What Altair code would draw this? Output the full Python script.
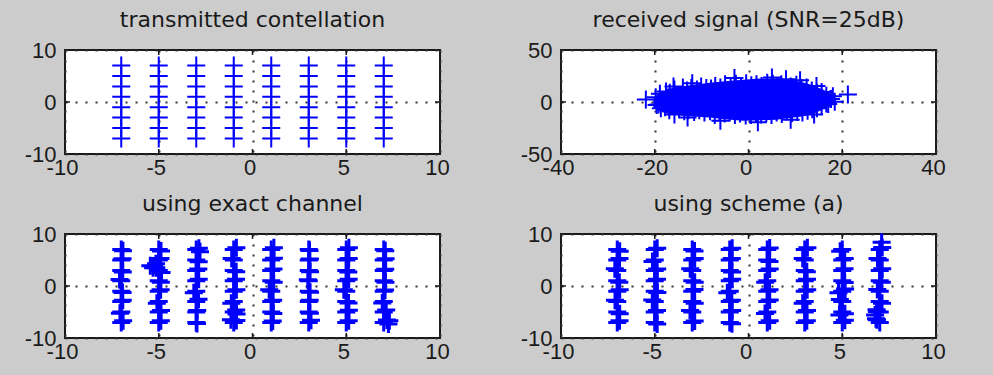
import altair as alt
import pandas as pd

# ---------------- data ----------------
levels = [-7, -5, -3, -1, 1, 3, 5, 7]          # 64-QAM levels (I and Q)

# received signal: solid core envelope (x, upper y, lower y)
blob_x = [-20.3, -19.5, -18.2, -16.5, -15.4, -13.5, -11.8, -10.0, -8.3, -5.0, -1.2, 2.4, 5.9, 9.5,
          11.5, 13.0, 14.5, 15.9, 17.4, 18.6]
blob_top = [3.0, 7.0, 10.0, 13.0, 14.5, 15.5, 16.5, 17.5, 18.5, 20.0, 21.5, 22.5, 22.5, 21.0,
            19.0, 17.0, 14.5, 12.0, 8.0, 3.0]
blob_bot = [-5.0, -8.0, -10.0, -12.0, -12.5, -13.5, -14.0, -14.5, -15.0, -16.5, -18.0, -17.5, -17.0, -15.0,
            -14.0, -12.5, -10.0, -7.0, -4.0, -1.0]

# received signal: individual symbols on the fringe of the cloud
rx_x = [-19.8, -18.9, -17.6, -16.8, -15.8, -14.0, -13.1, -12.2, -11.0, -10.1, -9.0, -8.0, -7.1, -6.0,
        -5.0, -3.8, -2.7, -1.6, -0.5, 0.6, 1.7, 2.8, 4.0, 5.2, 6.0, 7.0, 8.0, 9.0, 10.2, 11.3, 12.4,
        13.5, 14.6, 15.6, 16.6, 17.6,
        -19.6, -18.7, -17.8, -16.9, -15.8, -14.8, -13.7, -12.8, -11.6, -10.5, -9.4, -8.2, -7.2, -6.2,
        -5.1, -4.0, -2.9, -1.8, -0.6, 0.5, 1.6, 2.7, 3.8, 4.9, 6.0, 7.1, 8.2, 9.3, 10.4, 11.5, 12.6,
        13.6, 14.6, 15.6, 16.6,
        -21.9, 17.5, 18.0, 18.4, 17.0, 21.2, -19.2,
        -16.0, -12.0, -3.0, 5.0, 11.0, 14.5, -13.0, -6.0, 2.0, 9.0, 14.0]
rx_y = [4.5, 8.0, 10.0, 9.0, 12.0, 14.0, 11.0, 13.5, 12.0, 15.0, 13.5, 13.0, 15.5, 14.0,
        17.0, 15.5, 17.5, 14.5, 18.0, 16.0, 17.0, 15.5, 18.5, 17.5, 15.5, 17.0, 21.8, 15.0, 16.5, 13.5, 14.0,
        11.0, 9.0, 9.5, 6.0, 3.0,
        -3.0, -6.0, -5.0, -8.0, -12.0, -7.0, -9.0, -8.0, -9.5, -8.0, -10.0, -9.0, -12.5, -9.5,
        -11.0, -10.0, -12.5, -11.0, -13.0, -12.5, -11.0, -12.0, -10.5, -12.5, -10.0, -11.5, -9.0, -10.5, -9.5,
        -10.0, -8.5, -7.0, -6.0, -3.5, -1.5,
        2.4, 3.0, 5.6, 0.3, -2.0, 7.3, -2.5,
        15.0, 18.0, 23.0, 23.5, 21.0, 15.5, -15.0, -18.0, -19.5, -17.0, -12.0]

# equalised symbols, deviation from the ideal point (column by column, Q from -7 to 7)
exact_dx = [0.10, -0.07, 0.08, 0.07, -0.09, 0.08, 0.07, 0.09,
            0.11, 0.12, -0.10, 0.10, 0.11, -0.13, 0.09, 0.12,
            0.04, 0.05, 0.12, -0.13, 0.13, 0.11, 0.13, 0.14,
            0.14, 0.13, -0.13, 0.14, 0.12, 0.13, -0.11, 0.14,
            0.08, 0.11, 0.10, -0.11, 0.13, 0.12, 0.14, 0.14,
            0.12, 0.06, 0.05, 0.07, -0.05, 0.07, 0.06, 0.04,
            0.13, 0.14, 0.12, -0.13, 0.13, 0.11, 0.13, 0.14,
            0.17, 0.13, -0.08, 0.07, 0.09, 0.08, 0.10, 0.08]
exact_dy = [0.30, -0.26, 0.28, -0.24, 0.27, -0.30, 0.25, -0.20,
            0.32, 0.28, -0.30, 0.26, -0.28, 0.50, 0.30, -0.25,
            -0.20, 0.30, 0.45, -0.28, 0.30, 0.26, -0.32, 0.28,
            0.35, 0.40, -0.30, 0.28, 0.32, -0.26, 0.30, 0.34,
            0.25, -0.30, 0.28, 0.30, -0.26, 0.28, 0.32, 0.35,
            0.40, -0.22, 0.24, -0.20, 0.22, -0.25, 0.20, -0.18,
            0.30, 0.35, -0.28, 0.30, 0.32, -0.30, 0.28, 0.36,
            0.45, 0.38, -0.26, 0.24, -0.28, 0.22, 0.25, -0.20]
exact_extra_x = [-5.45, -5.30, -5.15, -4.85, 7.30, 7.25, -2.80, -0.85, -1.15]
exact_extra_y = [3.9, 3.5, 4.3, 2.6, -6.7, -7.3, 6.6, -5.4, -6.5]

scheme_dx = [0.12, 0.13, -0.12, 0.13, 0.11, -0.13, 0.12, 0.13,
             0.13, 0.12, -0.13, 0.14, 0.12, 0.13, -0.12, 0.13,
             0.13, -0.12, 0.13, 0.12, 0.13, -0.11, 0.13, 0.12,
             0.12, 0.13, 0.11, -0.13, 0.13, 0.12, 0.11, 0.13,
             0.13, -0.12, 0.13, 0.12, -0.11, 0.13, 0.12, 0.13,
             0.11, 0.12, -0.11, 0.13, 0.12, 0.11, -0.11, 0.14,
             0.14, 0.14, -0.13, 0.15, 0.13, 0.12, 0.13, -0.11,
             -0.15, -0.17, 0.12, -0.13, 0.11, 0.13, -0.12, 0.13]
scheme_dy = [0.30, -0.32, 0.28, 0.30, -0.26, 0.32, 0.28, -0.30,
             -0.30, 0.28, 0.32, -0.27, 0.30, 0.26, -0.30, 0.28,
             0.28, 0.30, -0.30, 0.32, -0.28, 0.30, 0.27, -0.26,
             -0.27, 0.30, 0.28, -0.30, 0.29, -0.32, 0.30, 0.28,
             0.30, -0.28, 0.32, 0.27, -0.30, 0.28, -0.30, 0.31,
             0.32, 0.28, -0.30, 0.26, 0.30, -0.28, 0.30, 0.35,
             0.40, -0.35, 0.38, 0.42, -0.33, 0.30, 0.28, -0.32,
             0.50, 0.45, -0.30, 0.35, -0.28, 0.30, 0.28, 0.40]
scheme_extra_x = [6.75, 6.80, 6.85, 4.80, 4.85, 7.10]
scheme_extra_y = [-5.6, -6.3, -4.9, -1.3, -5.6, 8.4]

small_xticks = [-10, -5, 0, 5, 10]
small_yticks = [-10, 0, 10]
rx_xticks = [-40, -20, 0, 20, 40]
rx_yticks = [-50, 0, 50]

titles = ["transmitted contellation", "received signal (SNR=25dB)",
          "using exact channel", "using scheme (a)"]

# ---------------- helpers ----------------
BLUE = "#0000FF"
PLUS = "M-1,0L1,0M0,-1L0,1"
W, H = 375, 104

grid_pts = [(i, q) for i in levels for q in levels]


def eq_points(dx, dy, ex, ey):
    xs = [p[0] for p in grid_pts] + [p[0] + d for p, d in zip(grid_pts, dx)] + ex
    ys = [p[1] for p in grid_pts] + [p[1] + d for p, d in zip(grid_pts, dy)] + ey
    return pd.DataFrame({"x": xs, "y": ys})


def panel(title, pts, xdom, ydom, xticks, yticks, extra=None, sw=2.0):
    xs = alt.Scale(domain=xdom, nice=False, zero=False)
    ys = alt.Scale(domain=ydom, nice=False, zero=False)
    xax = alt.Axis(values=xticks, grid=True, labelPadding=3, labelOffset=-3,
                   labelExpr="'' + datum.value")
    yax = alt.Axis(values=yticks, grid=True, labelPadding=9, labelExpr="'' + datum.value")
    X = alt.X("x:Q", scale=xs, axis=xax, title=None)
    Y = alt.Y("y:Q", scale=ys, axis=yax, title=None)
    layers = []
    if extra is not None:
        layers.append(extra(X, Y))
    layers.append(
        alt.Chart(pts).mark_point(shape=PLUS, filled=False, size=324, strokeWidth=sw,
                                  color=BLUE, opacity=1).encode(x=X, y=Y)
    )
    xt = pd.DataFrame({"x": xticks[1:-1]})
    yt = pd.DataFrame({"y": yticks[1:-1]})
    tick = dict(color="#1a1a1a", strokeWidth=1.5)
    layers += [
        alt.Chart(xt).mark_rule(**tick).encode(x=X, y=alt.value(0), y2=alt.value(5)),
        alt.Chart(xt).mark_rule(**tick).encode(x=X, y=alt.value(H - 5), y2=alt.value(H)),
        alt.Chart(yt).mark_rule(**tick).encode(y=Y, x=alt.value(0), x2=alt.value(5)),
        alt.Chart(yt).mark_rule(**tick).encode(y=Y, x=alt.value(W - 5), x2=alt.value(W)),
    ]
    return alt.layer(*layers).properties(
        width=W, height=H,
        title=alt.TitleParams(title, font="DejaVu Sans", fontSize=22, fontWeight="normal",
                              color="#1a1a1a", baseline="alphabetic", offset=-10, anchor="middle"),
    )


tx_df = pd.DataFrame({"x": [p[0] for p in grid_pts], "y": [p[1] for p in grid_pts]})
rx_df = pd.DataFrame({"x": rx_x, "y": rx_y})
blob_df = pd.DataFrame({"x": blob_x, "y": blob_top, "y2": blob_bot})


def blob_layer(X, Y):
    return alt.Chart(blob_df).mark_area(color=BLUE, opacity=1).encode(x=X, y=Y, y2="y2:Q")


p1 = panel(titles[0], tx_df, [-10, 10], [-10, 10], small_xticks, small_yticks)
p2 = panel(titles[1], rx_df, [-40, 40], [-50, 50], rx_xticks, rx_yticks, extra=blob_layer)
p3 = panel(titles[2], eq_points(exact_dx, exact_dy, exact_extra_x, exact_extra_y),
           [-10, 10], [-10, 10], small_xticks, small_yticks, sw=3.0)
p4 = panel(titles[3], eq_points(scheme_dx, scheme_dy, scheme_extra_x, scheme_extra_y),
           [-10, 10], [-10, 10], small_xticks, small_yticks, sw=3.0)

chart = alt.vconcat(
    alt.hconcat(p1, p2, spacing=68),
    alt.hconcat(p3, p4, spacing=68),
    spacing=13,
).properties(
    background="#CCCCCC",
    padding={"left": 23, "top": 8, "right": 46, "bottom": 13},
).configure_view(
    fill="white", stroke="#1a1a1a", strokeWidth=2
).configure_axis(
    labelFont="Liberation Sans", labelFontSize=22, labelColor="#1a1a1a",
    ticks=False, domain=False, labelFlush=False, labelOverlap=False,
    gridColor="#333333", gridDash=[2, 8], gridWidth=2, gridOpacity=1,
)

chart.save("out.html", embed_options={"renderer": "svg", "actions": False})
